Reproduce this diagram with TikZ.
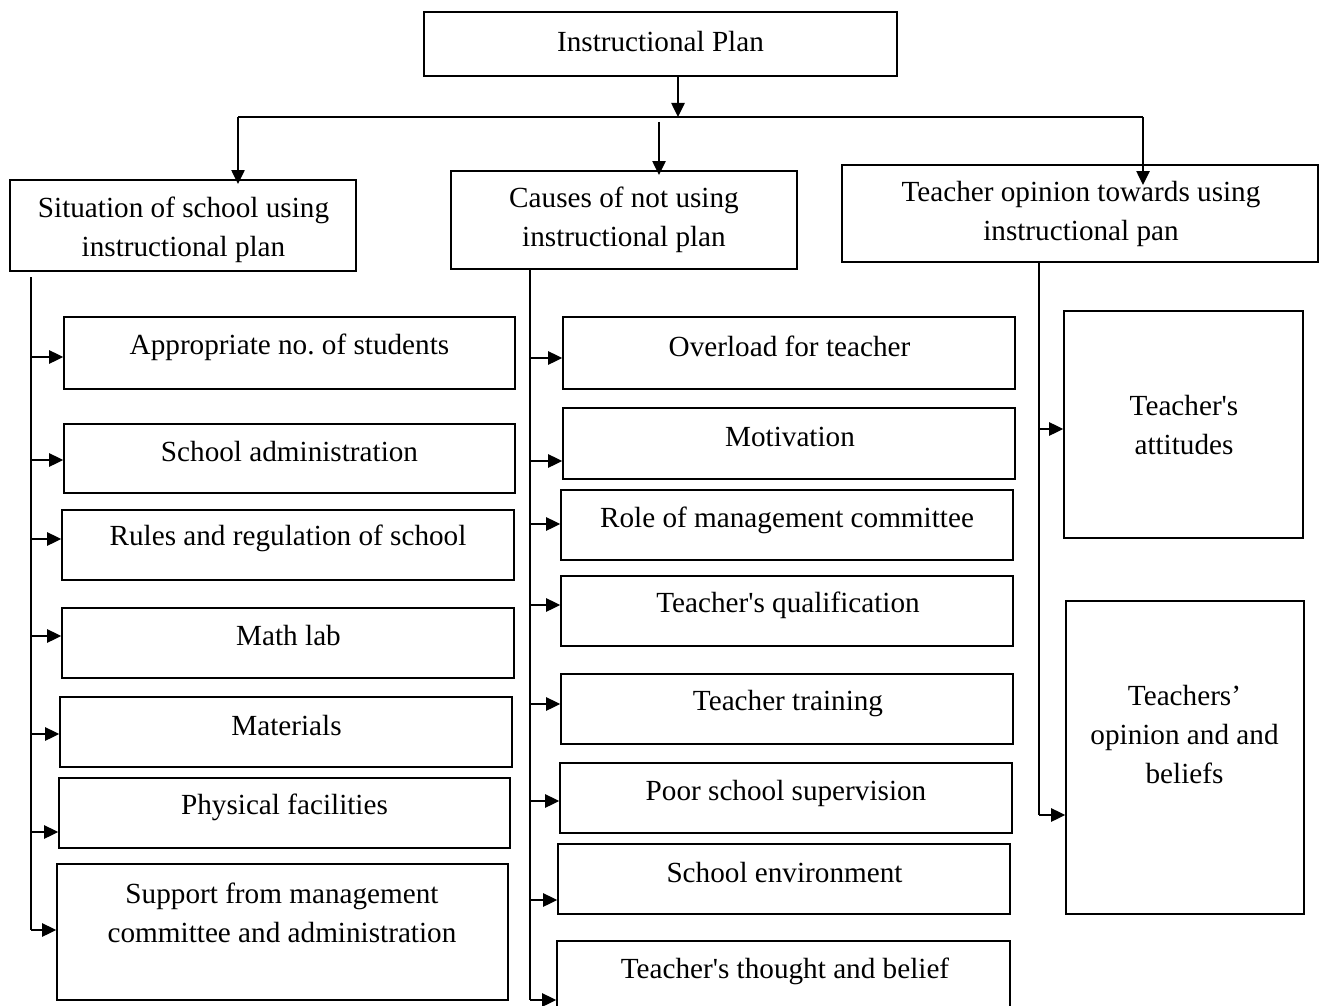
\documentclass[tikz,border=0pt]{standalone}
\usepackage{fontspec}
\newfontfamily\tnr{Liberation Serif}
\usetikzlibrary{arrows.meta,fit}
\tikzset{
  box/.style={draw, line width=1.2pt, inner sep=0pt},
  txt/.style={align=center, inner sep=0pt},
  ln/.style={line width=1.1pt},
  arr/.style={line width=1.1pt, -{Triangle[length=10.5pt,width=10pt]}}
}
\begin{document}
\frenchspacing
\begin{tikzpicture}[x=0.75pt, y=-0.75pt, font=\tnr\fontsize{21.9}{29.25}\selectfont]
\clip (0,0) rectangle (1325,1006);
\fill[white] (0,0) rectangle (1325,1006);
% top and headers
\node[box, fit={(424,12)(897,76)}] (top) {};
\node[txt] (ttop) at (660.5,42) {Instructional Plan};
\node[box, fit={(10,180)(356,271)}] (h1) {};
\node[txt] (th1) at (183.5,230) {Situation of school using\\instructional plan};
\node[box, fit={(451,171)(797,269)}] (h2) {};
\node[txt] (th2) at (624,220) {Causes of not using\\instructional plan};
\node[box, fit={(842,165)(1318,262)}] (h3) {};
\node[txt] (th3) at (1081,214) {Teacher opinion towards using\\instructional pan};
% header connectors
\coordinate (jc) at (678,117);
\coordinate (jl) at (238,117);
\coordinate (jr) at (1143,117);
\coordinate (el) at (238,184);
\coordinate (mc0) at (659,122);
\coordinate (mc1) at (659,175);
\coordinate (er) at (1143,185);
\draw[arr] (top.south -| jc) -- (jc);
\draw[ln] (jl) -- (jr);
\draw[arr] (jl) -- (el);
\draw[arr] (mc0) -- (mc1);
\draw[arr] (jr) -- (er);
% left column
\node[box, fit={(64,317)(515,389)}] (l1) {};
\node[txt] (tl1) at (289.5,347.5) {Appropriate no. of students};
\node[box, fit={(64,424)(515,493)}] (l2) {};
\node[txt] (tl2) at (289.5,452) {School administration};
\node[box, fit={(62,510)(514,580)}] (l3) {};
\node[txt] (tl3) at (288,538) {Rules and regulation of school};
\node[box, fit={(62,608)(514,678)}] (l4) {};
\node[txt] (tl4) at (288.5,636) {Math lab};
\node[box, fit={(60,697)(512,767)}] (l5) {};
\node[txt] (tl5) at (286.5,726) {Materials};
\node[box, fit={(59,778)(510,848)}] (l6) {};
\node[txt] (tl6) at (284.5,807.5) {Physical facilities};
\node[box, fit={(57,864)(508,1000)}] (l7) {};
\node[txt] (tl7) at (282,913) {Support from management\\committee and administration};
\coordinate (L0) at (31,277);
\coordinate (L1) at (31,930);
\draw[ln] (L0) -- (L1);
\foreach \n/\y in {1/357,2/460,3/539,4/636,5/734,6/832,7/930}{
  \coordinate (la\n) at (31,\y);
  \draw[arr] (la\n) -- (la\n -| l\n.west);
}
% middle column
\node[box, fit={(563,317)(1015,389)}] (m1) {};
\node[txt] (tm1) at (789.5,346) {Overload for teacher};
\node[box, fit={(563,408)(1015,479)}] (m2) {};
\node[txt] (tm2) at (790,437) {Motivation};
\node[box, fit={(561,490)(1013,560)}] (m3) {};
\node[txt] (tm3) at (787,520.5) {Role of management committee};
\node[box, fit={(561,576)(1013,646)}] (m4) {};
\node[txt] (tm4) at (788,605.5) {Teacher's qualification};
\node[box, fit={(561,674)(1013,744)}] (m5) {};
\node[txt] (tm5) at (788,703.5) {Teacher training};
\node[box, fit={(560,763)(1012,833)}] (m6) {};
\node[txt] (tm6) at (786,793.5) {Poor school supervision};
\node[box, fit={(558,844)(1010,914)}] (m7) {};
\node[txt] (tm7) at (784.5,872.5) {School environment};
\node[box, fit={(557,941)(1010,1030)}] (m8) {};
\node[txt] (tm8) at (785,971) {Teacher's thought and belief};
\coordinate (M0) at (530,269);
\coordinate (M1) at (530,1000);
\draw[ln] (M0) -- (M1);
\foreach \n/\y in {1/358,2/461,3/524,4/605,5/704,6/801,7/900,8/1000}{
  \coordinate (ma\n) at (530,\y);
  \draw[arr] (ma\n) -- (ma\n -| m\n.west);
}
% right column
\node[box, fit={(1064,311)(1303,538)}] (r1) {};
\node[txt] (tr1) at (1184,425) {Teacher's\\attitudes};
\node[box, fit={(1066,601)(1304,914)}] (r2) {};
\node[txt] (tr2) at (1184.5,735) {Teachers’\\opinion and and\\beliefs};
\coordinate (R0) at (1039,262);
\coordinate (R1) at (1039,815);
\draw[ln] (R0) -- (R1);
\foreach \n/\y in {1/429,2/815}{
  \coordinate (ra\n) at (1039,\y);
  \draw[arr] (ra\n) -- (ra\n -| r\n.west);
}
\end{tikzpicture}
\end{document}
